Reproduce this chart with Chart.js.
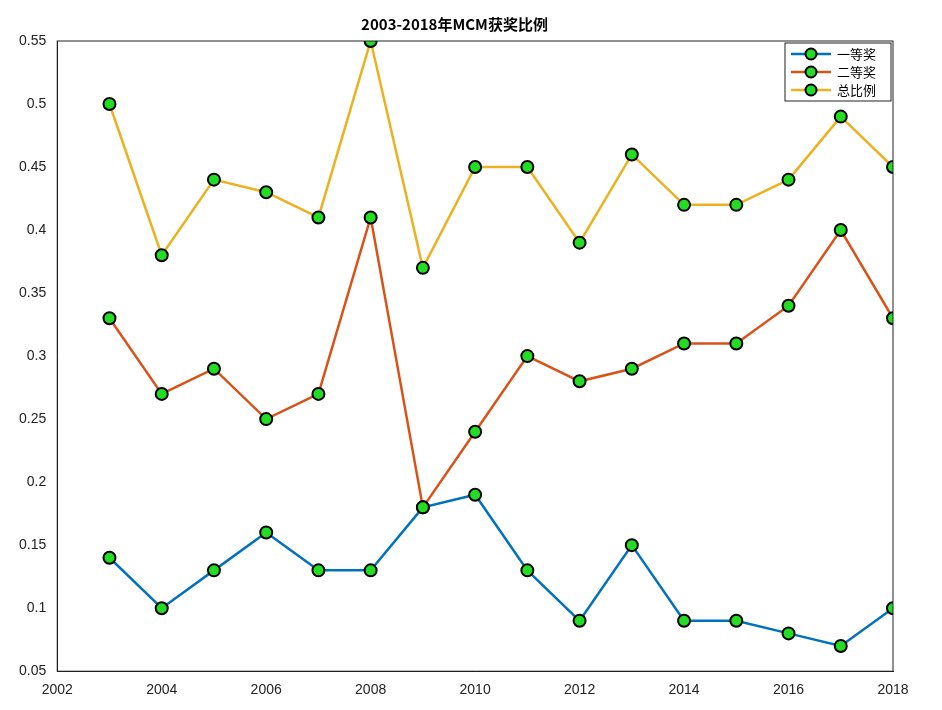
<!DOCTYPE html>
<html><head><meta charset="utf-8">
<script src="https://cdn.jsdelivr.net/npm/chart.js@4/dist/chart.umd.min.js"></script>
<style>html,body{margin:0;background:#fff}#w{width:942px;height:710px}</style>
</head><body><div id="w"><canvas id="c"></canvas></div>
<script>
const years=[2003,2004,2005,2006,2007,2008,2009,2010,2011,2012,2013,2014,2015,2016,2017,2018];
const first=[0.14,0.10,0.13,0.16,0.13,0.13,0.18,0.19,0.13,0.09,0.15,0.09,0.09,0.08,0.07,0.10];
const second=[0.33,0.27,0.29,0.25,0.27,0.41,0.18,0.24,0.30,0.28,0.29,0.31,0.31,0.34,0.40,0.33];
const total=[0.50,0.38,0.44,0.43,0.41,0.55,0.37,0.45,0.45,0.39,0.46,0.42,0.42,0.44,0.49,0.45];
const names=['一等奖','二等奖','总比例'];
const colors=['#0072BD','#D95319','#EDB120'];
const mk=(d,i)=>({label:names[i],data:years.map((y,j)=>({x:y,y:d[j]})),borderColor:colors[i],backgroundColor:'#22dd22',
 pointBorderColor:'#000',pointBorderWidth:2,pointRadius:6,borderWidth:2.5,tension:0});
const box={id:'box',afterDraw(c){const a=c.chartArea,x=c.ctx;x.save();x.strokeStyle='#222';x.lineWidth=1;x.strokeRect(a.left,a.top,a.right-a.left,a.bottom-a.top);
 const lx=a.right-108,ly=a.top+2,w=106,h=58;x.fillStyle='#fff';x.fillRect(lx,ly,w,h);x.strokeRect(lx,ly,w,h);
 x.font='13px "Noto Sans CJK SC"';x.textBaseline='middle';
 c.data.datasets.forEach((d,i)=>{const yy=ly+11+i*18;x.strokeStyle=d.borderColor;x.lineWidth=2.5;x.beginPath();x.moveTo(lx+6,yy);x.lineTo(lx+46,yy);x.stroke();
  x.beginPath();x.arc(lx+26,yy,5.5,0,Math.PI*2);x.fillStyle='#22dd22';x.fill();x.strokeStyle='#000';x.lineWidth=2;x.stroke();
  x.fillStyle='#000';x.fillText(d.label,lx+52,yy);});
 x.restore();}};
new Chart(document.getElementById('c'),{type:'line',data:{datasets:[mk(first,0),mk(second,1),mk(total,2)]},
options:{responsive:true,maintainAspectRatio:false,animation:false,
layout:{padding:{left:16,right:49,top:3,bottom:8}},
plugins:{title:{display:true,text:'2003-2018年MCM获奖比例',color:'#000',font:{family:'Noto Sans CJK SC',size:15,weight:'bold'},padding:{top:12,bottom:8}},
legend:{display:false}},
scales:{x:{type:'linear',min:2002,max:2018,ticks:{stepSize:2,color:'#222',font:{size:14},callback:v=>String(v)},grid:{display:false},border:{color:'#222'}},
y:{min:0.05,max:0.55,ticks:{stepSize:0.05,color:'#222',font:{size:14},callback:v=>String(Math.round(v*100)/100)},grid:{display:false},border:{color:'#222'}}}},
plugins:[box]});
</script></body></html>
